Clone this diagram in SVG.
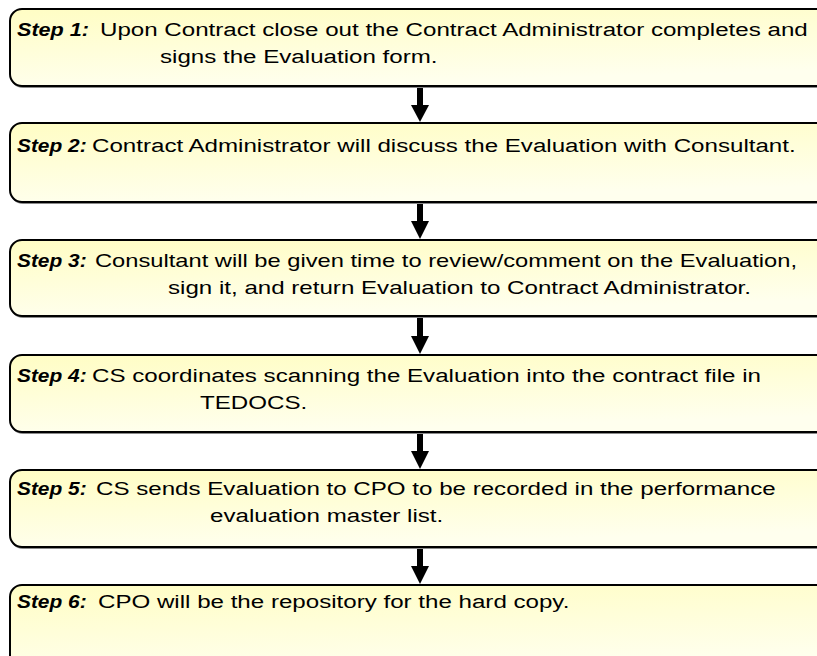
<svg xmlns="http://www.w3.org/2000/svg" width="817" height="656" viewBox="0 0 817 656">
  <defs>
    <linearGradient id="boxFill" x1="0" y1="0" x2="0.3" y2="1">
      <stop offset="0" stop-color="#FFFDC4"/>
      <stop offset="1" stop-color="#FFFFEE"/>
    </linearGradient>
  </defs>
  <style>
    .shadow { fill: none; stroke: #8a8a8a; stroke-width: 2; }
    .box { fill: url(#boxFill); stroke: #000; stroke-width: 2; }
    .lbl { font-family: "Liberation Sans", Arial, sans-serif; font-size: 18px; font-weight: bold; font-style: italic; fill: #000; }
    .txt { font-family: "Liberation Sans", Arial, sans-serif; font-size: 19px; fill: #000; }
    .link { stroke: #000; stroke-width: 6; fill: none; }
    .head { fill: #000; }
  </style>

  <g id="connectors">
    <line class="link" x1="420" y1="87" x2="420" y2="106"/>
    <path class="head" d="M411,105 L429,105 L420,122 Z"/>
    <line class="link" x1="420" y1="203" x2="420" y2="222"/>
    <path class="head" d="M411,221 L429,221 L420,239 Z"/>
    <line class="link" x1="420" y1="317" x2="420" y2="337"/>
    <path class="head" d="M411,336 L429,336 L420,354 Z"/>
    <line class="link" x1="420" y1="433" x2="420" y2="452"/>
    <path class="head" d="M411,451 L429,451 L420,469 Z"/>
    <line class="link" x1="420" y1="548" x2="420" y2="567"/>
    <path class="head" d="M411,566 L429,566 L420,584 Z"/>
  </g>

  <g id="step1">
    <rect class="shadow" x="11" y="10" width="830" height="77" rx="12"/>
    <rect class="box" x="10" y="9" width="830" height="77" rx="12"/>
    <text class="lbl" transform="translate(17,36) scale(1.2,1)">Step 1:</text>
    <text class="txt" transform="translate(100,36) scale(1.27,1)">Upon Contract close out the Contract Administrator completes and</text>
    <text class="txt" transform="translate(160,63) scale(1.27,1)">signs the Evaluation form.</text>
  </g>

  <g id="step2">
    <rect class="shadow" x="11" y="124" width="830" height="79" rx="12"/>
    <rect class="box" x="10" y="123" width="830" height="79" rx="12"/>
    <text class="lbl" transform="translate(17,152) scale(1.16,1)">Step 2:</text>
    <text class="txt" transform="translate(92,152) scale(1.27,1)">Contract Administrator will discuss the Evaluation with Consultant.</text>
  </g>

  <g id="step3">
    <rect class="shadow" x="11" y="241" width="830" height="76" rx="12"/>
    <rect class="box" x="10" y="240" width="830" height="76" rx="12"/>
    <text class="lbl" transform="translate(17,267) scale(1.16,1)">Step 3:</text>
    <text class="txt" x="95" y="267" textLength="702" lengthAdjust="spacingAndGlyphs">Consultant will be given time to review/comment on the Evaluation,</text>
    <text class="txt" x="168" y="294" textLength="583" lengthAdjust="spacingAndGlyphs">sign it, and return Evaluation to Contract Administrator.</text>
  </g>

  <g id="step4">
    <rect class="shadow" x="11" y="356" width="830" height="77" rx="12"/>
    <rect class="box" x="10" y="355" width="830" height="77" rx="12"/>
    <text class="lbl" transform="translate(17,382) scale(1.16,1)">Step 4:</text>
    <text class="txt" transform="translate(92,382) scale(1.27,1)">CS coordinates scanning the Evaluation into the contract file in</text>
    <text class="txt" transform="translate(200,409) scale(1.27,1)">TEDOCS.</text>
  </g>

  <g id="step5">
    <rect class="shadow" x="11" y="471" width="830" height="77" rx="12"/>
    <rect class="box" x="10" y="470" width="830" height="77" rx="12"/>
    <text class="lbl" transform="translate(17,495) scale(1.16,1)">Step 5:</text>
    <text class="txt" transform="translate(96,495) scale(1.27,1)">CS sends Evaluation to CPO to be recorded in the performance</text>
    <text class="txt" transform="translate(210,522) scale(1.27,1)">evaluation master list.</text>
  </g>

  <g id="step6">
    <rect class="shadow" x="11" y="586" width="830" height="90" rx="12"/>
    <rect class="box" x="10" y="585" width="830" height="90" rx="12"/>
    <text class="lbl" transform="translate(17,608) scale(1.16,1)">Step 6:</text>
    <text class="txt" transform="translate(98,608) scale(1.27,1)">CPO will be the repository for the hard copy.</text>
  </g>
</svg>
